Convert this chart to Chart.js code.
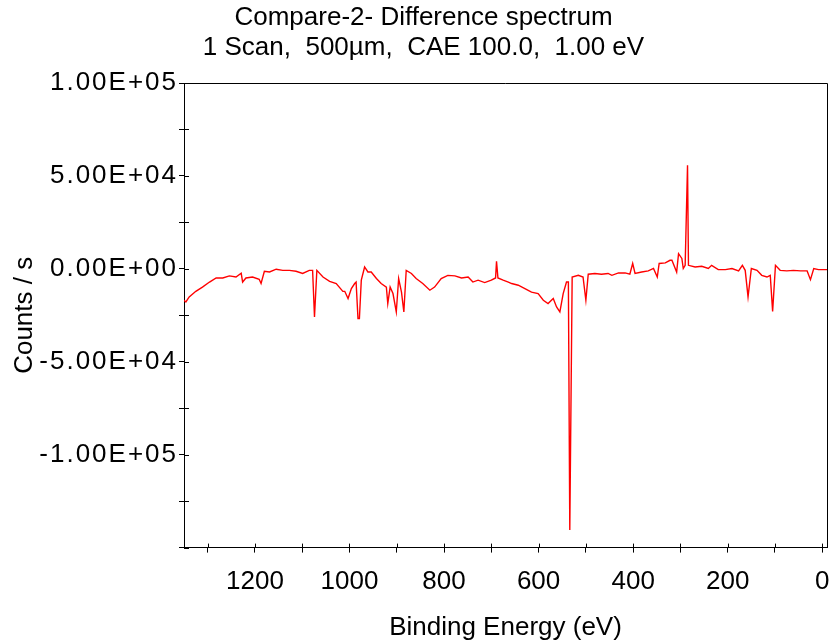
<!DOCTYPE html>
<html>
<head>
<meta charset="utf-8">
<script src="https://cdn.jsdelivr.net/npm/chart.js@4.4.0/dist/chart.umd.min.js"></script>
<style>
  html, body { margin: 0; padding: 0; background: #fff; }
  #wrap { width: 834px; height: 643px; }
</style>
</head>
<body>
<div id="wrap"><canvas id="myChart" width="834" height="643"></canvas></div>
<script>
// data (binding energy in eV, counts / s)
const bindingEnergy = [1350,1346,1339,1325,1311,1296,1282,1268,1254,1240,
    1229,1226,1219,1205,1191,1187,1180,1169,1155,1141,
    1127,1113,1099,1085,1078,1074,1069,1056,1042,1028,
    1014,1010,1003,996,989,986,982,979,975,968,
    961,954,943,933,922,919,914,908,901,896,
    890,885,880,869,859,845,830,820,806,792,
    777,763,749,739,728,714,700,691,689,686,
    675,664,657,643,629,615,601,590,580,569,
    562,555,548,541,537,534,529,516,506,500,
    495,481,467,453,445,431,417,407,401,396,
    382,368,357,349,345,332,322,318,308,304,
    297,294,290,285,283,269,255,241,234,220,
    205,191,177,169,163,157,150,138,128,117,
    110,105,99,89,75,61,46,32,25,18,
    8,-10];
const counts = [-16900,-17800,-15100,-12100,-9800,-7100,-4900,-4900,-3800,-4400,
    -2400,-7100,-4900,-4400,-5600,-7900,-1300,-1700,-200,-800,
    -800,-1300,-2500,-800,-800,-25900,-800,-4400,-6700,-7900,
    -12100,-12100,-16000,-10600,-7900,-7100,-26800,-26800,-6100,1000,
    -1700,-1700,-5200,-7900,-9800,-18700,-9800,-13300,-23200,-5200,
    -12500,-23200,-800,-2500,-5200,-7900,-11500,-9800,-5200,-3500,
    -3800,-4900,-4400,-7100,-6100,-7400,-6100,-4900,4100,-4900,
    -6100,-7100,-7900,-8800,-10600,-12500,-13300,-16900,-18700,-16000,
    -20500,-23200,-13300,-7100,-7100,-140500,-4400,-3500,-4400,-16900,
    -2900,-2500,-2900,-2500,-3500,-2200,-2200,-2900,2900,-2500,
    -1700,-1100,200,-4400,2900,3200,4600,4600,-1700,8200,
    5600,200,1900,55800,1900,1000,1400,200,1900,-400,
    -400,200,-1100,1900,-800,-15100,200,-800,-3500,-4400,
    -3500,-22900,1900,-800,-1100,-800,-1100,-1100,-5800,200,
    -400,-400];

// tick positions
const xTicks = [0,100,200,300,400,500,600,700,800,900,1000,1100,1200,1300];
const xLabels = [0,200,400,600,800,1000,1200];
const yTicks = [-150000,-125000,-100000,-75000,-50000,-25000,0,25000,50000,75000,100000];
const yLabels = [-100000,-50000,0,50000,100000];

const titleLines = ['Compare-2- Difference spectrum', '1 Scan,  500\u00b5m,  CAE 100.0,  1.00 eV'];

const fontFamily = '"Liberation Sans", Arial, sans-serif';

function sciLabel(v) {
    if (v === 0) return '0.00E+00';
    const sign = v < 0 ? '-' : '';
    const a = Math.abs(v);
    const exp = Math.floor(Math.log10(a));
    const mant = (a / Math.pow(10, exp)).toFixed(2);
    return sign + mant + 'E+' + String(exp).padStart(2, '0');
}

// frame (top + right lines), inner half of the tick marks,
// and the wider spacing of the y labels
const framePlugin = {
    id: 'frame',
    afterLayout(chart) {
        const s = chart.scales.y;
        if (!s._spaced) {
            const orig = s.drawLabels.bind(s);
            s.drawLabels = function (area) {
                this.ctx.save();
                this.ctx.letterSpacing = '2px';
                orig(area);
                this.ctx.restore();
            };
            s._spaced = true;
        }
    },
    afterDraw(chart) {
        const ctx = chart.ctx;
        const a = chart.chartArea;
        ctx.save();
        ctx.strokeStyle = '#000';
        ctx.lineWidth = 1;
        ctx.beginPath();
        ctx.moveTo(a.left, a.top + 0.5);
        ctx.lineTo(a.right + 0.5, a.top + 0.5);
        ctx.lineTo(a.right + 0.5, a.bottom);
        ctx.stroke();
        ctx.beginPath();
        chart.scales.x.ticks.forEach(t => {
            const px = Math.round(chart.scales.x.getPixelForValue(t.value)) + 0.5;
            ctx.moveTo(px, a.bottom);
            ctx.lineTo(px, a.bottom - 4);
        });
        chart.scales.y.ticks.forEach(t => {
            const py = Math.round(chart.scales.y.getPixelForValue(t.value)) + 0.5;
            ctx.moveTo(a.left, py);
            ctx.lineTo(a.left + 5, py);
        });
        ctx.stroke();
        ctx.restore();
    }
};

const data = {
    datasets: [{
        label: 'Difference',
        data: bindingEnergy.map((e, i) => ({ x: e, y: counts[i] })),
        borderColor: 'rgb(255, 0, 0)',
        borderWidth: 1.4,
        pointRadius: 0,
        tension: 0,
        fill: false
    }]
};

const config = {
    type: 'line',
    data,
    options: {
        responsive: false,
        animation: false,
        // left padding shifts the centred title to where the reference has it
        layout: { padding: { left: 20, right: 7, top: 0, bottom: 0 } },
        plugins: {
            legend: { display: false },
            tooltip: { enabled: false },
            title: {
                display: true,
                text: titleLines,
                color: '#000',
                font: { family: fontFamily, size: 26, weight: 'normal', lineHeight: 1.154 },
                padding: { top: 3, bottom: 20 }
            }
        },
        scales: {
            x: {
                type: 'linear',
                reverse: true,
                min: -10,
                max: 1350,
                afterBuildTicks: scale => {
                    scale.ticks = xTicks.map(v => ({ value: v }));
                },
                ticks: {
                    color: '#000',
                    font: { family: fontFamily, size: 26 },
                    padding: 14,
                    maxRotation: 0,
                    autoSkip: false,
                    callback: v => xLabels.includes(v) ? String(v) : ''
                },
                grid: { drawOnChartArea: false, drawTicks: true, tickLength: 5, color: '#000' },
                border: { display: true, color: '#000', width: 1 },
                title: {
                    display: true,
                    text: 'Binding Energy (eV)',
                    color: '#000',
                    font: { family: fontFamily, size: 26 },
                    padding: { top: 0, bottom: 0 }
                }
            },
            y: {
                type: 'linear',
                min: -150000,
                max: 100000,
                afterBuildTicks: scale => {
                    scale.ticks = yTicks.map(v => ({ value: v }));
                },
                afterFit: scale => { scale.width = 164; },
                ticks: {
                    color: '#000',
                    font: { family: fontFamily, size: 26 },
                    padding: 1,
                    autoSkip: false,
                    callback: v => yLabels.includes(v) ? sciLabel(v) : ''
                },
                grid: { drawOnChartArea: false, drawTicks: true, tickLength: 5, color: '#000' },
                border: { display: true, color: '#000', width: 1 },
                title: {
                    display: true,
                    text: 'Counts / s',
                    color: '#000',
                    font: { family: fontFamily, size: 26 },
                    padding: { top: -11, bottom: 0 }
                }
            }
        }
    },
    plugins: [framePlugin]
};

const myChart = new Chart(document.getElementById('myChart'), config);
</script>
</body>
</html>
